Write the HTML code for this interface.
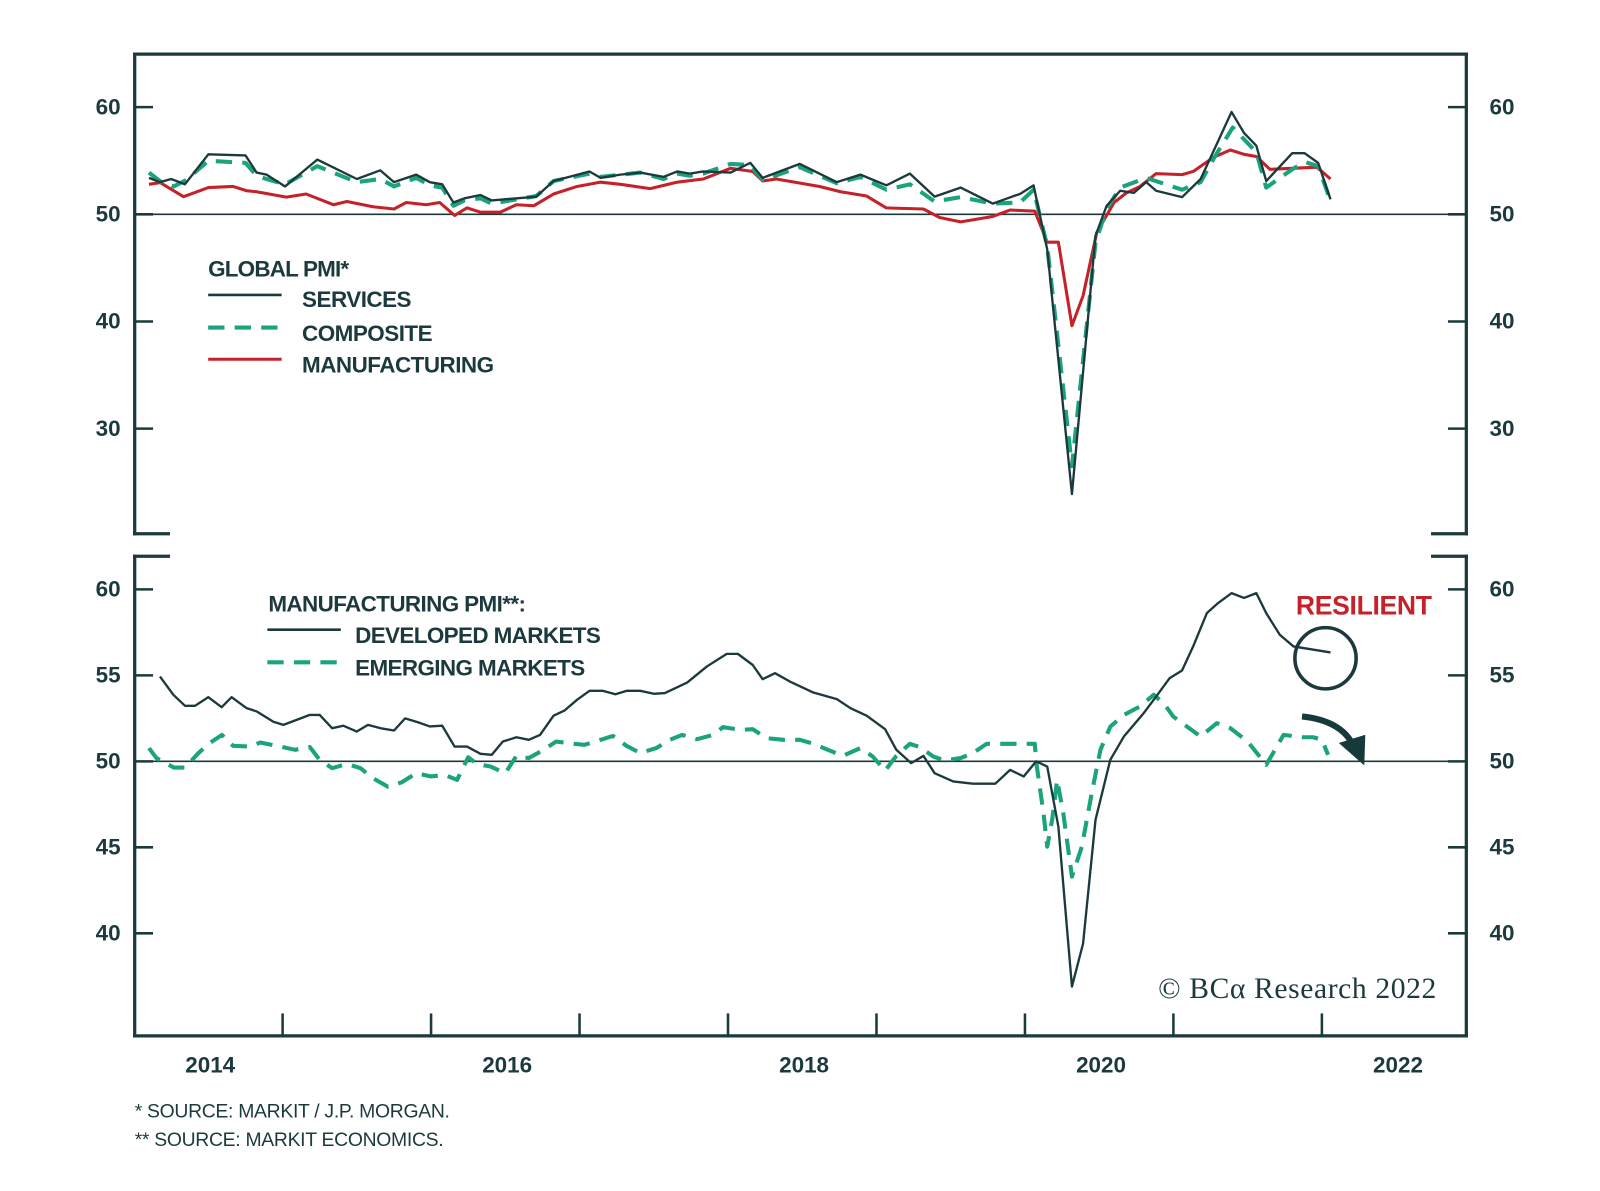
<!DOCTYPE html>
<html><head><meta charset="utf-8"><style>
html,body{margin:0;padding:0;background:#fff;}
svg{display:block;}
text{font-family:"Liberation Sans",sans-serif;fill:#1c3a3d;}
</style></head><body>
<svg id="chart" width="1600" height="1191" viewBox="0 0 1568 1167" preserveAspectRatio="none" xmlns="http://www.w3.org/2000/svg">
<g id="frame"></g>
<g id="marks"></g>
<g>
<text x="204" y="271" font-size="22" font-weight="bold" letter-spacing="-0.8">GLOBAL PMI*</text>
<line x1="204" y1="289" x2="276" y2="289" stroke="#1c3a3d" stroke-width="2.5"/>
<text x="296" y="301" font-size="22" font-weight="bold" letter-spacing="-0.5">SERVICES</text>
<line x1="204" y1="321" x2="276" y2="321" stroke="#1aa37c" stroke-width="4" stroke-dasharray="16,10"/>
<text x="296" y="334" font-size="22" font-weight="bold" letter-spacing="-0.5">COMPOSITE</text>
<line x1="204" y1="352" x2="276" y2="352" stroke="#c62128" stroke-width="3"/>
<text x="296" y="365" font-size="22" font-weight="bold" letter-spacing="-0.5">MANUFACTURING</text>
</g>
<g>
<text x="263" y="599" font-size="22" font-weight="bold" letter-spacing="-0.6">MANUFACTURING PMI**:</text>
<line x1="262" y1="617" x2="334" y2="617" stroke="#1c3a3d" stroke-width="2.5"/>
<text x="348" y="630" font-size="22" font-weight="bold" letter-spacing="-0.6">DEVELOPED MARKETS</text>
<line x1="262" y1="649" x2="334" y2="649" stroke="#1aa37c" stroke-width="4" stroke-dasharray="16,10"/>
<text x="348" y="662" font-size="22" font-weight="bold" letter-spacing="-0.6">EMERGING MARKETS</text>
</g>
<text x="1270" y="602" font-size="26" font-weight="bold" style="fill:#c62128" letter-spacing="-0.3">RESILIENT</text>
<circle cx="1299" cy="645" r="30" fill="none" stroke="#1c3a3d" stroke-width="3.5"/>
<path d="M1276,702 Q1314,706 1326,730" fill="none" stroke="#163a3c" stroke-width="6"/>
<polygon points="1312,728 1338,720 1337,750" fill="#163a3c"/>
<text x="1135" y="978" font-size="29" letter-spacing="0.6" style="font-family:'Liberation Serif',serif">© BCα Research 2022</text>
<text x="132" y="1095" font-size="19" letter-spacing="-0.3">* SOURCE: MARKIT / J.P. MORGAN.</text>
<text x="132" y="1123" font-size="19" letter-spacing="-0.3">** SOURCE: MARKIT ECONOMICS.</text>
</svg>
<script>
// ---- data (months since Jan 2014) ----
const servMonths=[0,0.9,1.8,2.9,4.8,7.8,8.7,9.5,11,13.6,16.8,18.7,19.8,21.6,22.7,23.7,24.6,25.5,26.8,27.7,31.3,32.7,35.6,36.5,38.1,39.7,41.6,42.7,43.7,44.8,47,48.6,49.6,52.6,55.6,57.5,59.6,61.5,63.5,65.6,68.2,69.9,70.4,71.5,72.6,74.6,76.5,77.4,78.5,79.6,80.6,81.4,83.5,85,86,87.5,88.5,89.5,90.3,92.4,93.4,94.5,95.5];
const servValues=[53.4,53.0,53.3,52.8,55.6,55.5,53.9,53.7,52.6,55.1,53.3,54.1,53.0,53.7,53.0,52.8,51.1,51.5,51.8,51.3,51.65,53.1,54.0,53.4,53.7,53.9,53.5,54.0,53.8,54.0,53.9,54.8,53.4,54.7,53.0,53.7,52.7,53.8,51.65,52.5,51.0,51.7,51.9,52.7,46.7,23.9,48.0,50.8,52.2,52.0,53.0,52.2,51.6,53.3,55.8,59.55,57.6,56.4,53.1,55.7,55.7,54.8,51.4];
const compMonths=[0,1,2,3,4.8,7.8,8.7,9.5,11,13.6,16.8,18.7,19.8,21.6,22.7,23.7,24.6,25.5,26.8,27.7,31.3,32.7,35.6,36.5,39.7,41.6,42.7,43.7,44.8,47,48.6,49.6,52.6,55.6,57.5,59.6,61.5,63.5,65.6,68.2,70.4,71.5,72.6,74.6,76.5,77.4,78.5,80.6,83.5,85,86,87.6,89.5,90.3,92.4,93.4,94.5,95.5];
const compValues=[53.9,53.0,52.6,53.2,55.0,54.8,53.6,53.3,52.8,54.5,53.0,53.3,52.6,53.4,52.7,52.5,50.8,51.3,51.5,51.0,51.7,53.1,53.8,53.5,53.9,53.3,53.8,53.6,53.8,54.7,54.6,53.2,54.4,52.9,53.5,52.3,52.8,51.2,51.6,51.0,51.1,52.3,47.0,26.5,47.4,50.5,52.5,53.4,52.3,53.0,55.1,58.1,55.8,52.5,54.2,54.9,54.5,51.25];
const mfgMonths=[0,0.9,2.8,4.8,6.8,7.9,8.7,11.1,12.7,14.9,16,18.1,19.8,20.8,22.4,23.5,24.7,25.7,26.8,28.4,29.7,31.1,32.7,34.6,36.5,38.1,40.5,42.7,44.8,47,48.8,49.6,50.7,54.2,55.9,58,59.6,62.6,63.9,65.6,68.2,69.6,71.6,72.6,73.5,74.6,75.5,76.6,78,79,80.1,81.4,83.5,84.4,86,87.4,88.5,89.5,90.6,94.4,95.5];
const mfgValues=[52.8,52.96,51.65,52.5,52.6,52.2,52.1,51.6,51.9,50.9,51.2,50.7,50.5,51.1,50.9,51.1,49.9,50.6,50.2,50.2,50.9,50.8,51.9,52.6,53.0,52.8,52.4,53.0,53.3,54.3,54.0,53.1,53.3,52.6,52.1,51.7,50.6,50.5,49.7,49.3,49.8,50.4,50.3,47.4,47.4,39.6,42.4,48.3,51.1,52.0,52.6,53.8,53.7,54.0,55.3,56.0,55.6,55.4,54.2,54.4,53.3];
const dmMonths=[0.89,1.97,2.91,3.72,4.8,5.87,6.68,7.89,8.7,10.05,10.86,11.93,13.0,13.8,14.8,15.7,16.8,17.7,18.7,19.8,20.7,21.8,22.7,23.7,24.7,25.7,26.8,27.7,28.6,29.7,30.7,31.6,32.7,33.6,34.6,35.6,36.7,37.7,38.6,39.7,40.8,41.7,43.5,45.1,46.7,47.6,48.8,49.6,50.6,51.8,53.7,55.6,56.7,58,59.5,60.4,61.6,62.6,63.5,65,66.6,68.4,69.6,70.7,71.7,72.6,73.5,74.6,75.5,76.5,77.7,78.8,80.4,81.4,82.5,83.5,84.4,85.5,86.4,87.5,88.5,89.5,90.3,91.4,92.5,95.5];
const dmValues=[54.93,53.87,53.23,53.23,53.73,53.15,53.73,53.09,52.9,52.3,52.12,52.41,52.7,52.7,51.93,52.07,51.73,52.12,51.93,51.79,52.5,52.26,52.03,52.07,50.86,50.86,50.44,50.38,51.15,51.4,51.25,51.54,52.65,52.96,53.58,54.1,54.1,53.9,54.1,54.1,53.93,53.97,54.58,55.52,56.25,56.25,55.6,54.78,55.13,54.64,54.0,53.62,53.09,52.65,51.87,50.67,49.9,50.32,49.31,48.83,48.7,48.7,49.5,49.12,50.0,49.7,46.2,36.9,39.4,46.6,50.09,51.44,52.8,53.77,54.84,55.28,56.68,58.62,59.2,59.78,59.5,59.78,58.62,57.36,56.68,56.33];
const emMonths=[0,0.6,2,2.9,4,4.9,5.9,6.8,8.2,9,10.6,11.8,13,13.8,14.8,16,17.1,18.1,19.3,20.4,21.6,22.8,23.9,24.9,25.8,26.5,27.6,28.8,29.7,30.7,31.9,32.9,34.3,35.2,36.5,37.5,38.6,39.7,41,42.1,43.1,44.3,45.6,46.4,47.8,48.8,49.9,51.3,52.6,53.7,55,56.1,57.5,58.5,59.5,60.4,61.5,62.3,63.4,64.3,65.6,66.6,67.7,71.6,71.7,72.3,72.6,73,73.4,73.9,74.6,75.4,76.2,76.9,77.7,78.8,80.1,81.2,82,82.8,83.9,85,86.3,87.4,88.8,90.3,91.7,93.3,94.1,94.8,95.3];
const emValues=[50.77,50.19,49.64,49.64,50.48,51.06,51.54,50.9,50.86,51.1,50.86,50.67,50.83,50.09,49.6,49.85,49.6,49.02,48.53,48.77,49.31,49.12,49.21,48.92,50.24,49.85,49.7,49.31,50.32,50.19,50.67,51.15,51.02,50.96,51.25,51.48,50.9,50.48,50.77,51.25,51.54,51.29,51.54,51.99,51.83,51.87,51.35,51.25,51.25,51.02,50.63,50.32,50.77,50.28,49.46,50.32,51.02,50.83,50.28,50.05,50.19,50.48,51.02,51.02,50.0,46.99,45.04,46.6,48.92,46.99,43.3,45.04,48.15,50.67,52.02,52.7,53.19,53.87,53.39,52.6,52.02,51.44,52.22,51.93,51.15,49.8,51.54,51.4,51.4,51.25,50.38];
const topTicks=[60,50,40,30];
const bottomTicks=[60,55,50,45,40];
const yearTicks=[2015,2016,2017,2018,2019,2020,2021,2022];
const yearLabels=[2014,2016,2018,2020,2022];

const NS="http://www.w3.org/2000/svg";
const X=m=>146+m*12.125;
const YT=v=>210-(v-50)*10.5;
const YB=v=>746-(v-50)*16.85;
const DARK="#1c3a3d";
function mk(tag,attrs,parent){const e=document.createElementNS(NS,tag);for(const k in attrs)e.setAttribute(k,attrs[k]);parent.appendChild(e);return e;}
const frame=document.getElementById('frame');
const marks=document.getElementById('marks');
const L=132,R=1437;
[[L,53,R,53],[L,53,L,523],[R,53,R,523],[L,523,165,523],[1404,523,R,523],
 [L,545,165,545],[1404,545,R,545],[L,545,L,1015],[R,545,R,1015],[L,1015,R,1015]].forEach(c=>{
  const l=mk('line',{x1:c[0],y1:c[1],x2:c[2],y2:c[3],stroke:DARK,'stroke-width':3.2,'stroke-linecap':'square'},frame);
  
  
});
const z1=mk('line',{x1:L,y1:YT(50),x2:R,y2:YT(50),stroke:DARK,'stroke-width':1.6},frame);


const z2=mk('line',{x1:L,y1:YB(50),x2:R,y2:YB(50),stroke:DARK,'stroke-width':1.6},frame);


function yTicks(ticks,Y,prefix){
  ticks.forEach(v=>{
    const y=Y(v);
    const a=mk('line',{x1:L,y1:y,x2:L+18,y2:y,stroke:DARK,'stroke-width':2.5},frame);
    
    
    const b=mk('line',{x1:R-18,y1:y,x2:R,y2:y,stroke:DARK,'stroke-width':2.5},frame);
    
    
    const t1=mk('text',{x:106,y:y+7,'font-size':22,'font-weight':'bold','text-anchor':'middle'},frame);
    t1.textContent=v;
    
    
    const t2=mk('text',{x:1472,y:y+7,'font-size':22,'font-weight':'bold','text-anchor':'middle'},frame);
    t2.textContent=v;
    
    
  });
}
yTicks(topTicks,YT,'top-y');
yTicks(bottomTicks,YB,'bottom-y');
yearTicks.forEach(yr=>{
  const x=X((yr-2015)*12+10.8);
  const t=mk('line',{x1:x,y1:993,x2:x,y2:1015,stroke:DARK,'stroke-width':2.5},frame);
  
  
});
yearLabels.forEach(yr=>{
  const t=mk('text',{x:X((yr-2014)*12+4.95),y:1051,'font-size':22,'font-weight':'bold','text-anchor':'middle'},frame);
  t.textContent=yr;
  
  
});
function series(ms,vs,Y,attrs,name){
  const d=ms.map((m,i)=>(i?'L':'M')+X(m).toFixed(1)+','+Y(vs[i]).toFixed(1)).join(' ');
  const p=mk('path',Object.assign({d:d,fill:'none','stroke-linejoin':'round'},attrs),marks);
  
  
}
series(mfgMonths,mfgValues,YT,{stroke:'#c62128','stroke-width':3},'manufacturing-line');
series(compMonths,compValues,YT,{stroke:'#1aa37c','stroke-width':4,'stroke-dasharray':'16,10'},'composite-line');
series(servMonths,servValues,YT,{stroke:DARK,'stroke-width':2.3},'services-line');
series(emMonths,emValues,YB,{stroke:'#1aa37c','stroke-width':4,'stroke-dasharray':'16,10'},'emerging-markets-line');
series(dmMonths,dmValues,YB,{stroke:DARK,'stroke-width':2.3},'developed-markets-line');
</script>
</body></html>
